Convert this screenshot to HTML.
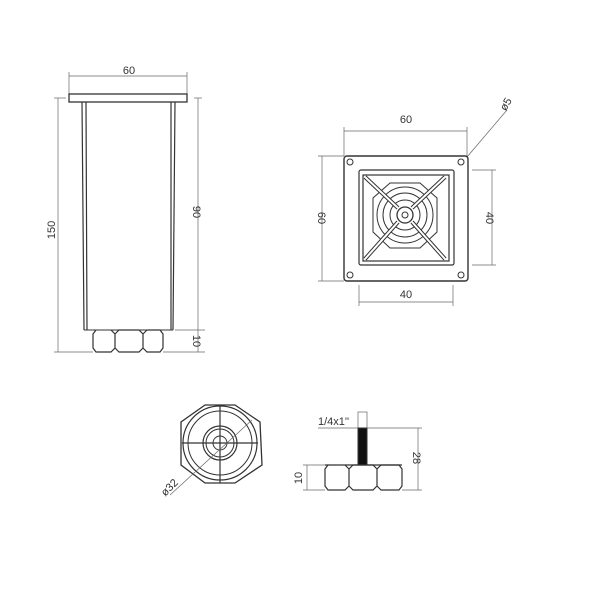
<!DOCTYPE html>
<html><head><style>body{margin:0;background:#fff}svg{display:block}text{font-family:"Liberation Sans",sans-serif;font-size:11px;fill:#333}</style></head><body>
<svg width="600" height="600" viewBox="0 0 600 600" xmlns="http://www.w3.org/2000/svg">
<g fill="none" stroke="#333" stroke-width="1">
<line x1="69" y1="76" x2="187" y2="76" stroke="#666" stroke-width="0.7"/>
<line x1="69" y1="72" x2="69" y2="94" stroke="#666" stroke-width="0.7"/>
<line x1="187" y1="72" x2="187" y2="94" stroke="#666" stroke-width="0.7"/>
<rect x="69" y="94" width="118" height="8" stroke-width="1.3"/>
<path d="M82 102 L84 330 M86 102 L87 330 M175 102 L173 330 M171 102 L171 330" stroke-width="1.2"/>
<line x1="84" y1="330" x2="173" y2="330"/>
<path d="M96 330 L93 334 L93 348 L96 352 L111 352 L115 348 L115 334 L111 330 M115 334 L119 330 L139 330 L143 334 L143 348 L139 352 L119 352 L115 348 M143 334 L147 330 L160 330 L163 334 L163 348 L160 352 L147 352 L143 348" stroke-width="1.2"/>
<line x1="58" y1="98" x2="58" y2="352" stroke="#666" stroke-width="0.7"/>
<line x1="54" y1="98" x2="66" y2="98" stroke="#666" stroke-width="0.7"/>
<line x1="54" y1="352" x2="93" y2="352" stroke="#666" stroke-width="0.7"/>
<line x1="198" y1="98" x2="198" y2="352" stroke="#666" stroke-width="0.7"/>
<line x1="194" y1="98" x2="202" y2="98" stroke="#666" stroke-width="0.7"/>
<line x1="175" y1="330" x2="205" y2="330" stroke="#666" stroke-width="0.7"/>
<line x1="163" y1="352" x2="205" y2="352" stroke="#666" stroke-width="0.7"/>
<line x1="344" y1="131" x2="467" y2="131" stroke="#666" stroke-width="0.7"/>
<line x1="344" y1="127" x2="344" y2="156" stroke="#666" stroke-width="0.7"/>
<line x1="467" y1="127" x2="467" y2="156" stroke="#666" stroke-width="0.7"/>
<line x1="467" y1="157" x2="507" y2="110" stroke="#666" stroke-width="0.7"/>
<line x1="322" y1="156" x2="322" y2="281" stroke="#666" stroke-width="0.7"/>
<line x1="318" y1="156" x2="344" y2="156" stroke="#666" stroke-width="0.7"/>
<line x1="318" y1="281" x2="344" y2="281" stroke="#666" stroke-width="0.7"/>
<line x1="492" y1="170" x2="492" y2="265" stroke="#666" stroke-width="0.7"/>
<line x1="472" y1="170" x2="496" y2="170" stroke="#666" stroke-width="0.7"/>
<line x1="472" y1="265" x2="496" y2="265" stroke="#666" stroke-width="0.7"/>
<line x1="359" y1="302" x2="453" y2="302" stroke="#666" stroke-width="0.7"/>
<line x1="359" y1="285" x2="359" y2="306" stroke="#666" stroke-width="0.7"/>
<line x1="453" y1="285" x2="453" y2="306" stroke="#666" stroke-width="0.7"/>
<rect x="344" y="156" width="124" height="125" rx="3" stroke-width="1.4"/>
<rect x="359" y="170" width="95" height="95" rx="2" stroke-width="1.2"/>
<rect x="363" y="175" width="86" height="86" stroke-width="1.2"/>
<circle cx="350" cy="162" r="3"/><circle cx="461" cy="162" r="3"/><circle cx="350" cy="275" r="3"/><circle cx="461" cy="275" r="3"/>
<polygon points="390,183 420,183 437,198 437,232 420,248 390,248 373,232 373,198"/>
<circle cx="405" cy="215" r="28"/><circle cx="405" cy="215" r="22"/><circle cx="405" cy="215" r="15"/><circle cx="405" cy="215" r="8" stroke-width="1.3"/><circle cx="405" cy="215" r="3"/>
<path d="M365 177 L398 208 M445 177 L412 208 M365 259 L398 222 M445 259 L412 222" stroke-width="4" stroke="#333"/>
<path d="M365 177 L398 208 M445 177 L412 208 M365 259 L398 222 M445 259 L412 222" stroke-width="2" stroke="#fff"/>
<polygon points="205,405 235,405 260,422 262,465 235,483 205,483 181,465 181,422" stroke-width="1.3"/>
<circle cx="220" cy="443" r="37" stroke-width="1.2"/>
<circle cx="220" cy="443" r="32"/>
<circle cx="220" cy="443" r="17" stroke-width="1.2"/>
<circle cx="220" cy="443" r="14"/>
<circle cx="220" cy="443" r="7"/>
<line x1="182" y1="443" x2="258" y2="443" stroke-width="1.2"/>
<line x1="220" y1="405" x2="220" y2="483" stroke-width="1.2"/>
<line x1="170" y1="495" x2="252" y2="420" stroke="#666" stroke-width="0.7"/>
<rect x="358" y="412" width="9" height="16" stroke="#666" stroke-width="0.7"/>
<rect x="358" y="428" width="9" height="37" fill="#111"/>
<line x1="318" y1="428" x2="358" y2="428" stroke="#666" stroke-width="0.7"/>
<line x1="367" y1="428" x2="422" y2="428" stroke="#666" stroke-width="0.7"/>
<line x1="418" y1="428" x2="418" y2="490" stroke="#666" stroke-width="0.7"/>
<line x1="402" y1="490" x2="422" y2="490" stroke="#666" stroke-width="0.7"/>
<line x1="307" y1="465" x2="307" y2="490" stroke="#666" stroke-width="0.7"/>
<line x1="303" y1="465" x2="325" y2="465" stroke="#666" stroke-width="0.7"/>
<line x1="303" y1="490" x2="325" y2="490" stroke="#666" stroke-width="0.7"/>
<line x1="325" y1="465" x2="402" y2="465" stroke-width="1.3"/>
<path d="M328 465 L325 469 L325 486 L328 490 L345 490 L349 486 L349 469 L345 465 M349 469 L353 465 L373 465 L377 469 L377 486 L373 490 L353 490 L349 486 M377 469 L381 465 L399 465 L402 469 L402 486 L399 490 L381 490 L377 486" stroke-width="1.2"/>
</g>
<text x="129" y="74" text-anchor="middle">60</text>
<text transform="translate(58,230) rotate(-90)" text-anchor="middle" dy="-3">150</text>
<text transform="translate(193,212) rotate(90)" text-anchor="middle">90</text>
<text transform="translate(193,341) rotate(90)" text-anchor="middle">10</text>
<text x="406" y="123" text-anchor="middle">60</text>
<text transform="translate(509,106) rotate(-60)" text-anchor="middle">ø5</text>
<text transform="translate(318,218) rotate(90)" text-anchor="middle">60</text>
<text transform="translate(486,218) rotate(90)" text-anchor="middle">40</text>
<text x="406" y="298" text-anchor="middle">40</text>
<text transform="translate(172,490) rotate(-45)" text-anchor="middle">ø32</text>
<text x="318" y="425">1/4x1''</text>
<text transform="translate(413,458) rotate(90)" text-anchor="middle">28</text>
<text transform="translate(302,478) rotate(-90)" text-anchor="middle">10</text>
</svg>
</body></html>
